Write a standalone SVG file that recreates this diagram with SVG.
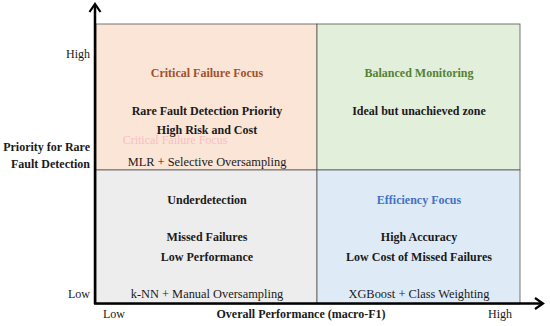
<svg xmlns="http://www.w3.org/2000/svg" width="550" height="326" viewBox="0 0 550 326">
<style>
text{font-family:"Liberation Serif","DejaVu Serif",serif;font-size:12px;fill:#1a1a1a}
.n{font-size:12.4px}
.b{font-weight:bold}
.m{text-anchor:middle}
.r{text-anchor:end}
.q{stroke:#555;stroke-width:0.8}
.ax{stroke:#000;stroke-width:2.5;fill:none}
.ah{stroke:#000;stroke-width:2.2;fill:none;stroke-linejoin:miter}
</style>
<rect width="550" height="326" fill="#fff"/>
<g id="q-critical">
<rect class="q" x="96" y="24" width="221" height="146" fill="#fbe5d6"/>
<text class="b m" x="207" y="77" style="fill:#a0522d">Critical Failure Focus</text>
<text class="b m" x="207" y="115">Rare Fault Detection Priority</text>
<text class="b m" x="207" y="134">High Risk and Cost</text>
<text class="m" x="175" y="144" style="fill:#f4a6c0;opacity:0.6">Critical Failure Focus</text>
<text class="m n" x="207" y="166">MLR + Selective Oversampling</text>
</g>
<g id="q-balanced">
<rect class="q" x="317" y="24" width="203" height="146" fill="#e2efda"/>
<text class="b m" x="419" y="77" style="fill:#548235">Balanced Monitoring</text>
<text class="b m" x="419" y="115">Ideal but unachieved zone</text>
</g>
<g id="q-under">
<rect class="q" x="96" y="170" width="221" height="134" fill="#ededed"/>
<text class="b m" x="207" y="204">Underdetection</text>
<text class="b m" x="207" y="241">Missed Failures</text>
<text class="b m" x="207" y="261">Low Performance</text>
<text class="m n" x="207" y="298">k-NN + Manual Oversampling</text>
</g>
<g id="q-efficiency">
<rect class="q" x="317" y="170" width="203" height="134" fill="#deebf7"/>
<text class="b m" x="419" y="204" style="fill:#4472c4">Efficiency Focus</text>
<text class="b m" x="419" y="241">High Accuracy</text>
<text class="b m" x="419" y="261">Low Cost of Missed Failures</text>
<text class="m n" x="419" y="298">XGBoost + Class Weighting</text>
</g>
<g id="axes">
<line class="ax" x1="95" y1="5" x2="95" y2="304"/>
<line class="ax" x1="94" y1="303.5" x2="542" y2="303.5"/>
<polyline class="ah" points="89.5,12 95,4 100.5,12"/>
<polyline class="ah" points="535,298 543,303.5 535,309"/>
</g>
<g id="labels">
<text class="r" x="90" y="58">High</text>
<text class="b r" x="90" y="151">Priority for Rare</text>
<text class="b r" x="90" y="168">Fault Detection</text>
<text class="r" x="90" y="298">Low</text>
<text class="m" x="114" y="318">Low</text>
<text class="b m" x="301" y="318">Overall Performance (macro-F1)</text>
<text class="m" x="500" y="318">High</text>
</g>
</svg>
